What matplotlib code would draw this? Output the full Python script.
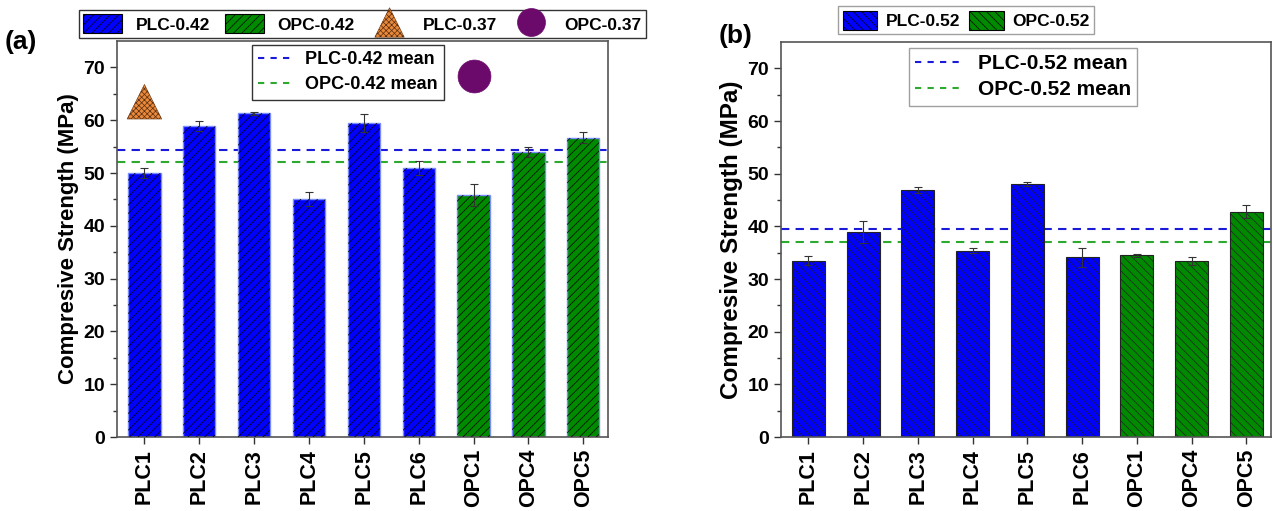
import matplotlib
matplotlib.use("Agg")
import matplotlib.pyplot as plt
from matplotlib.patches import Patch
from matplotlib.lines import Line2D
import numpy as np

plt.rcParams['font.family'] = ['Liberation Sans', 'DejaVu Sans']
plt.rcParams['font.weight'] = 'bold'
plt.rcParams['hatch.linewidth'] = 0.5

# ------------------------------ data ------------------------------
labels = ['PLC1', 'PLC2', 'PLC3', 'PLC4', 'PLC5', 'PLC6', 'OPC1', 'OPC4', 'OPC5']
is_plc = [True, True, True, True, True, True, False, False, False]

# (a) w/c 0.42
vals_042 = [50.0, 58.9, 61.3, 45.1, 59.5, 50.9, 45.9, 54.0, 56.7]
err_042 = [0.9, 0.9, 0.3, 1.3, 1.7, 1.3, 2.1, 1.0, 1.1]
plc_mean_042 = 54.3
opc_mean_042 = 52.1
plc_037_x, plc_037_val = 0, 63.5     # PLC-0.37 point
opc_037_x, opc_037_val = 6, 68.3     # OPC-0.37 point

# (b) w/c 0.52
vals_052 = [33.5, 39.0, 46.9, 35.4, 48.0, 34.1, 34.5, 33.4, 42.8]
err_052 = [0.9, 2.1, 0.6, 0.4, 0.4, 1.8, 0.3, 0.8, 1.2]
plc_mean_052 = 39.4
opc_mean_052 = 37.0

blue = '#0000ff'
green = '#008a00'
mean_blue = '#1a1ad8'
mean_green = '#2ea82e'

fig = plt.figure(figsize=(12.73, 5.11), dpi=100)
ax1 = fig.add_axes([117/1273, 74/511, 491/1273, 396/511])
ax2 = fig.add_axes([781/1273, 74/511, 490/1273, 395/511])


def style_axes(ax, ylabel_size):
    ax.set_ylim(0, 75)
    ax.set_xlim(-0.5, 8.45)
    ax.set_yticks(np.arange(0, 80, 10))
    ax.set_yticks(np.arange(5, 75, 10), minor=True)
    ax.tick_params(axis='y', which='major', length=5, width=1, labelsize=14, colors='#333333', labelcolor='black')
    ax.tick_params(axis='y', which='minor', length=3, width=1, colors='#333333')
    ax.tick_params(axis='x', length=5, width=1, labelsize=15.5, colors='#333333', labelcolor='black')
    ax.set_xticks(range(len(labels)))
    ax.set_xticklabels(labels, rotation=90, fontweight='bold')
    for sp in ax.spines.values():
        sp.set_color('#555555')
        sp.set_linewidth(1.2)
    ax.set_ylabel('Compresive Strength (MPa)', fontsize=ylabel_size, fontweight='bold', labelpad=3)


x = np.arange(len(labels))
colors = [blue if p else green for p in is_plc]

# ------------------------------ (a) ------------------------------
ax1.axhline(plc_mean_042, color=mean_blue, ls=(0, (4, 3)), lw=1.5, zorder=1)
ax1.axhline(opc_mean_042, color=mean_green, ls=(0, (4, 3)), lw=1.5, zorder=1)
ax1.bar(x, vals_042, width=0.59, color=colors, edgecolor='#7a8cff', lw=1, zorder=2)
ax1.bar(x, vals_042, width=0.59, color='none', edgecolor='black', lw=0, hatch='////', zorder=3)
ax1.errorbar(x, vals_042, yerr=err_042, fmt='none', ecolor='#333333', elinewidth=0.8, capsize=3, capthick=0.8, zorder=4)
tri = ax1.scatter([plc_037_x], [plc_037_val], marker='^', s=620, facecolor='#e8893c', edgecolor='#5b2d0c',
                  linewidths=0.4, hatch='xxxxxx', zorder=5)
circ = ax1.scatter([opc_037_x], [opc_037_val], marker='o', s=560, facecolor='#6c0a6c', edgecolor='#6c0a6c',
                   linewidths=0.5, zorder=5)
style_axes(ax1, 16)

h_plc = Patch(facecolor=blue, edgecolor='black', hatch='////', lw=0.8)
h_opc = Patch(facecolor=green, edgecolor='black', hatch='////', lw=0.8)
leg_top = ax1.legend([h_plc, h_opc, tri, circ], ['PLC-0.42', 'OPC-0.42', 'PLC-0.37', 'OPC-0.37'],
                     loc='lower center', bbox_to_anchor=(0.5, 1.0), ncol=4, fontsize=12.5, frameon=True,
                     fancybox=False, edgecolor='black', handlelength=2.2, handleheight=1.3,
                     columnspacing=0.9, handletextpad=0.8, borderpad=0.25, markerscale=0.85,
                     borderaxespad=0.2)
leg_top.get_frame().set_linewidth(1.0)
ax1.add_artist(leg_top)
mean_handles = [Line2D([], [], color=mean_blue, ls=(0, (3, 3)), lw=1.5),
                Line2D([], [], color=mean_green, ls=(0, (3, 3)), lw=1.5)]
leg_in = ax1.legend(mean_handles, ['PLC-0.42 mean', 'OPC-0.42 mean'], loc='upper left',
                    bbox_to_anchor=(0.275, 0.99), fontsize=13, fancybox=False, edgecolor='black',
                    handlelength=2.0, handletextpad=0.6, borderpad=0.35, labelspacing=0.45, borderaxespad=0)
leg_in.get_frame().set_linewidth(1.0)

# ------------------------------ (b) ------------------------------
ax2.axhline(plc_mean_052, color=mean_blue, ls=(0, (4, 3)), lw=1.5, zorder=1)
ax2.axhline(opc_mean_052, color=mean_green, ls=(0, (4, 3)), lw=1.5, zorder=1)
ax2.bar(x, vals_052, width=0.6, color=colors, edgecolor='#222222', lw=0.8, hatch='\\\\\\\\', zorder=2)
ax2.errorbar(x, vals_052, yerr=err_052, fmt='none', ecolor='#333333', elinewidth=0.8, capsize=3, capthick=0.8, zorder=4)
style_axes(ax2, 17.5)

h_plc2 = Patch(facecolor=blue, edgecolor='black', hatch='\\\\\\\\', lw=0.8)
h_opc2 = Patch(facecolor=green, edgecolor='black', hatch='\\\\\\\\', lw=0.8)
leg_top2 = ax2.legend([h_plc2, h_opc2], ['PLC-0.52', 'OPC-0.52'], loc='lower center',
                      bbox_to_anchor=(0.378, 1.02), ncol=2, fontsize=12.5, fancybox=False,
                      edgecolor='#888888', handlelength=2.0, handleheight=1.3, columnspacing=0.5,
                      handletextpad=0.5, borderpad=0.25, borderaxespad=0)
ax2.add_artist(leg_top2)
leg_in2 = ax2.legend(mean_handles, ['PLC-0.52 mean', 'OPC-0.52 mean'], loc='upper right',
                     bbox_to_anchor=(0.727, 0.985), fontsize=15, fancybox=False, edgecolor='#888888',
                     handlelength=2.2, borderpad=0.3, labelspacing=0.35, borderaxespad=0)

fig.text(5/1273, 1 - 42/511, '(a)', fontsize=19, fontweight='bold', va='center', ha='left')
fig.text(719/1273, 1 - 36/511, '(b)', fontsize=19, fontweight='bold', va='center', ha='left')

fig.savefig('out.png', dpi=100)
